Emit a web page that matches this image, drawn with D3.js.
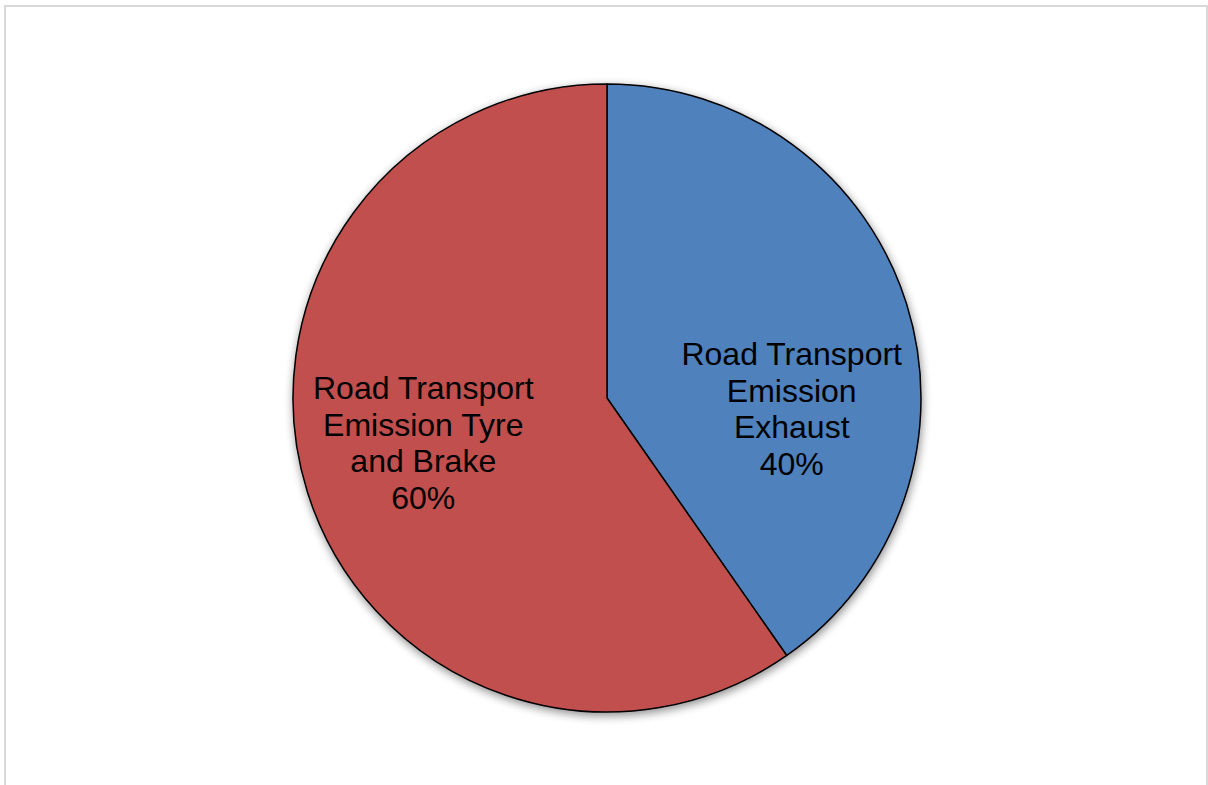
<!DOCTYPE html>
<html>
<head>
<meta charset="utf-8">
<script src="https://cdn.jsdelivr.net/npm/d3@7"></script>
<style>
  html, body { margin: 0; padding: 0; background: #fff; }
  svg { display: block; }
</style>
</head>
<body>
<div id="chart"></div>
<script>
document.addEventListener('DOMContentLoaded', function() {
    const categories = ["Road Transport Emission Exhaust", "Road Transport Emission Tyre and Brake"];
    const labelLines = [
        ["Road Transport", "Emission", "Exhaust"],
        ["Road Transport", "Emission Tyre", "and Brake"]
    ];
    const values = [40.3, 59.7];
    const colors = ["#4F81BD", "#C0504D"];

    const width = 1208, height = 785;
    const cx = 607, cy = 398, radius = 314;
    // Excel pushes labels to fit inside each slice
    const labelNudge = [[5, 68], [-4, -11]];
    const lineHeight = 36.5;

    const svg = d3.select("#chart")
                  .append("svg")
                  .attr("width", width)
                  .attr("height", height);

    const defs = svg.append("defs");
    const filter = defs.append("filter")
                       .attr("id", "shadow")
                       .attr("x", "-20%").attr("y", "-20%")
                       .attr("width", "140%").attr("height", "140%");
    filter.append("feGaussianBlur").attr("in", "SourceAlpha").attr("stdDeviation", 5).attr("result", "blur");
    filter.append("feOffset").attr("in", "blur").attr("dx", 1).attr("dy", 3).attr("result", "off");
    filter.append("feComponentTransfer").attr("in", "off").attr("result", "shade")
          .append("feFuncA").attr("type", "linear").attr("slope", 0.45);
    const merge = filter.append("feMerge");
    merge.append("feMergeNode").attr("in", "shade");
    merge.append("feMergeNode").attr("in", "SourceGraphic");

    svg.append("rect")
       .attr("x", 5).attr("y", 6)
       .attr("width", 1202).attr("height", 800)
       .attr("fill", "none")
       .attr("stroke", "#d9d9d9")
       .attr("stroke-width", 2);

    const g = svg.append("g")
                 .attr("transform", `translate(${cx},${cy})`);

    const pie = d3.pie().sort(null).value(d => d);
    const arcs = pie(values);
    const total = d3.sum(values);

    const arc = d3.arc().innerRadius(0).outerRadius(radius);
    const labelArc = d3.arc().innerRadius(radius * 0.6).outerRadius(radius * 0.6);

    g.append("g")
     .attr("filter", "url(#shadow)")
     .selectAll("path")
     .data(arcs)
     .enter().append("path")
     .attr("d", arc)
     .attr("fill", (d, i) => colors[i])
     .attr("stroke", "#000")
     .attr("stroke-width", 1.5)
     .attr("stroke-linejoin", "round");

    const labels = g.selectAll("text.label")
                    .data(arcs)
                    .enter().append("text")
                    .attr("class", "label")
                    .attr("text-anchor", "middle")
                    .attr("font-family", "'Liberation Sans', Arial, sans-serif")
                    .attr("font-size", 32)
                    .attr("fill", "#000")
                    .attr("transform", (d, i) => {
                        const c = labelArc.centroid(d);
                        return `translate(${c[0] + labelNudge[i][0]},${c[1] + labelNudge[i][1]})`;
                    });

    labels.each(function(d, i) {
        const lines = labelLines[i].concat([Math.round(d.value / total * 100) + "%"]);
        const t = d3.select(this);
        const first = -44.25;
        lines.forEach((line, k) => {
            t.append("tspan")
             .attr("x", 0)
             .attr("y", first + k * lineHeight)
             .text(line);
        });
    });
});
</script>
</body>
</html>
